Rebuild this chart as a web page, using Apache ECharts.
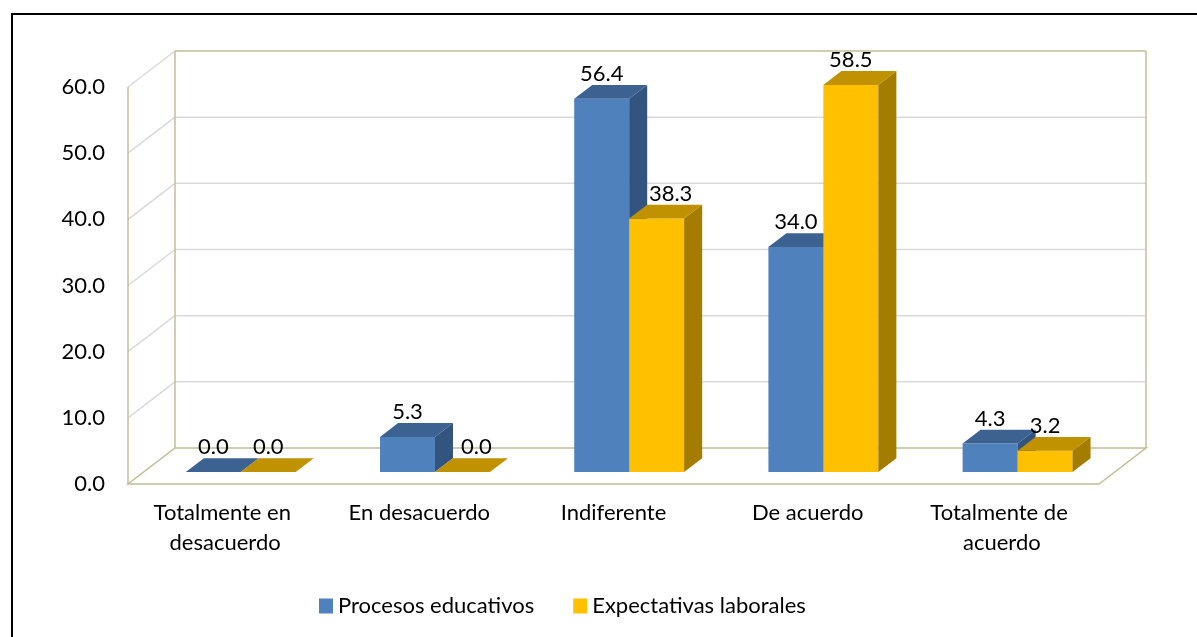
<!DOCTYPE html>
<html>
<head>
<meta charset="utf-8">
<script src="https://cdn.jsdelivr.net/npm/echarts@6/dist/echarts.min.js"></script>
<style>
html,body{margin:0;padding:0;background:#fff;}
#chart{width:1197px;height:637px;}
</style>
</head>
<body>
<div id="chart"></div>
<script>
// ---- data ----
const categories = ['Totalmente en desacuerdo', 'En desacuerdo', 'Indiferente', 'De acuerdo', 'Totalmente de acuerdo'];
const seriesNames = ['Procesos educativos', 'Expectativas laborales'];
const procesos = [0.0, 5.3, 56.4, 34.0, 4.3];
const expectativas = [0.0, 0.0, 38.3, 58.5, 3.2];
const yTicks = [0, 10, 20, 30, 40, 50, 60];

// ---- style / layout ----
const FONT = 'Lato';
const DX = 47, DY = -36;          // full floor depth in px
const F1 = 1 / 3, F2 = 0.717;     // bar front/back depth fractions
const BAR_RATIO = 0.283;
const TAN = '#c4bd97', GRID = '#d9d9d9';
const COLORS = [
  { front: '#4f81bd', top: '#3c6292', side: '#33547e' },
  { front: '#ffc000', top: '#c09100', side: '#a47c00' }
];

const chart = echarts.init(document.getElementById('chart'));

function wallsRender(params, api) {
  const cs = params.coordSys;
  const gx = cs.x, gw = cs.width;
  const y = t => api.coord([0, t])[1];
  const line = (x1, y1, x2, y2, c) => ({
    type: 'line', shape: { x1, y1, x2, y2 },
    style: { stroke: c, lineWidth: 1.5 }, silent: true
  });
  const ch = [];
  yTicks.forEach(t => {
    if (t === 0) return;
    ch.push(line(gx, y(t), gx + DX, y(t) + DY, GRID));
    if (t !== yTicks[yTicks.length - 1]) {
      ch.push(line(gx + DX, y(t) + DY, gx + gw + DX, y(t) + DY, GRID));
    }
  });
  const y0 = y(0), yTop = y(yTicks[yTicks.length - 1]);
  ch.push(line(gx + DX, yTop + DY, gx + gw + DX, yTop + DY, TAN));
  ch.push(line(gx, y0, gx, yTop, TAN));
  ch.push(line(gx + DX, y0 + DY, gx + DX, yTop + DY, TAN));
  ch.push(line(gx + gw + DX, y0 + DY, gx + gw + DX, yTop + DY, TAN));
  ch.push({
    type: 'polygon',
    shape: { points: [[gx, y0], [gx + gw, y0], [gx + gw + DX, y0 + DY], [gx + DX, y0 + DY]] },
    style: { fill: 'none', stroke: TAN, lineWidth: 1.5 }, silent: true
  });
  return { type: 'group', children: ch };
}

function barRender(sIdx) {
  const col = COLORS[sIdx];
  return function (params, api) {
    const i = api.value(0), v = api.value(1);
    const c0 = api.coord([i, 0]);
    const c1 = api.coord([i, v]);
    const pxPerUnit = c0[1] - api.coord([i, 1])[1];
    const cx = c0[0];
    const bw = api.size([1, 0])[0] * BAR_RATIO;
    const fx = F1 * DX, fy = F1 * DY;
    const ddx = (F2 - F1) * DX, ddy = (F2 - F1) * DY;
    const xl = cx + fx + (sIdx === 0 ? -bw : 0);
    const xr = xl + bw;
    const yb = c0[1] + fy, yt = c1[1] + fy;
    let shift = 0;
    if (sIdx === 1 && (procesos[i] - v) * pxPerUnit > 20) shift = 14;
    return {
      type: 'group',
      children: [
        { type: 'polygon', shape: { points: [[xl, yt], [xr, yt], [xr, yb], [xl, yb]] },
          style: { fill: col.front } },
        { type: 'polygon', shape: { points: [[xr, yt], [xr, yb], [xr + ddx, yb + ddy], [xr + ddx, yt + ddy]] },
          style: { fill: col.side } },
        { type: 'polygon', shape: { points: [[xl, yt], [xr, yt], [xr + ddx, yt + ddy], [xl + ddx, yt + ddy]] },
          style: { fill: col.top } },
        { type: 'text', x: (xl + xr) / 2 + shift, y: yt - 25,
          style: { text: v.toFixed(1), fill: '#000', font: '22px ' + FONT, align: 'center', verticalAlign: 'middle' },
          z2: 10 }
      ]
    };
  };
}

const option = {
  backgroundColor: '#fff',
  animation: false,
  grid: { left: 128, right: 98, top: 87, bottom: 153 },
  xAxis: {
    type: 'category', data: categories, boundaryGap: true,
    axisLine: { show: false }, axisTick: { show: false }, splitLine: { show: false },
    axisLabel: { interval: 0, margin: 14, fontFamily: FONT, fontSize: 22, color: '#000',
      lineHeight: 30, width: 185, overflow: 'break' }
  },
  yAxis: {
    type: 'value', min: 0, max: 60, interval: 10,
    axisLine: { show: false }, axisTick: { show: false }, splitLine: { show: false },
    axisLabel: { margin: 23, fontFamily: FONT, fontSize: 22, color: '#000', formatter: v => v.toFixed(1) }
  },
  legend: {
    left: 314, top: 590, icon: 'rect', itemWidth: 14, itemHeight: 15, itemGap: 39,
    textStyle: { fontFamily: FONT, fontSize: 22, color: '#000' },
    data: seriesNames
  },
  graphic: [{
    type: 'rect', shape: { x: 12, y: 14, width: 1200, height: 640 },
    style: { fill: 'none', stroke: '#000', lineWidth: 2 }, z: 100
  }],
  series: [
    { type: 'custom', name: 'walls', renderItem: wallsRender, data: [[0, 0]], z: 1, silent: true },
    { type: 'custom', name: seriesNames[0], renderItem: barRender(0), itemStyle: { color: COLORS[0].front },
      data: procesos.map((v, i) => [i, v]), z: 2, encode: { x: 0, y: 1 } },
    { type: 'custom', name: seriesNames[1], renderItem: barRender(1), itemStyle: { color: COLORS[1].front },
      data: expectativas.map((v, i) => [i, v]), z: 3, encode: { x: 0, y: 1 } }
  ]
};
chart.setOption(option);
</script>
</body>
</html>
